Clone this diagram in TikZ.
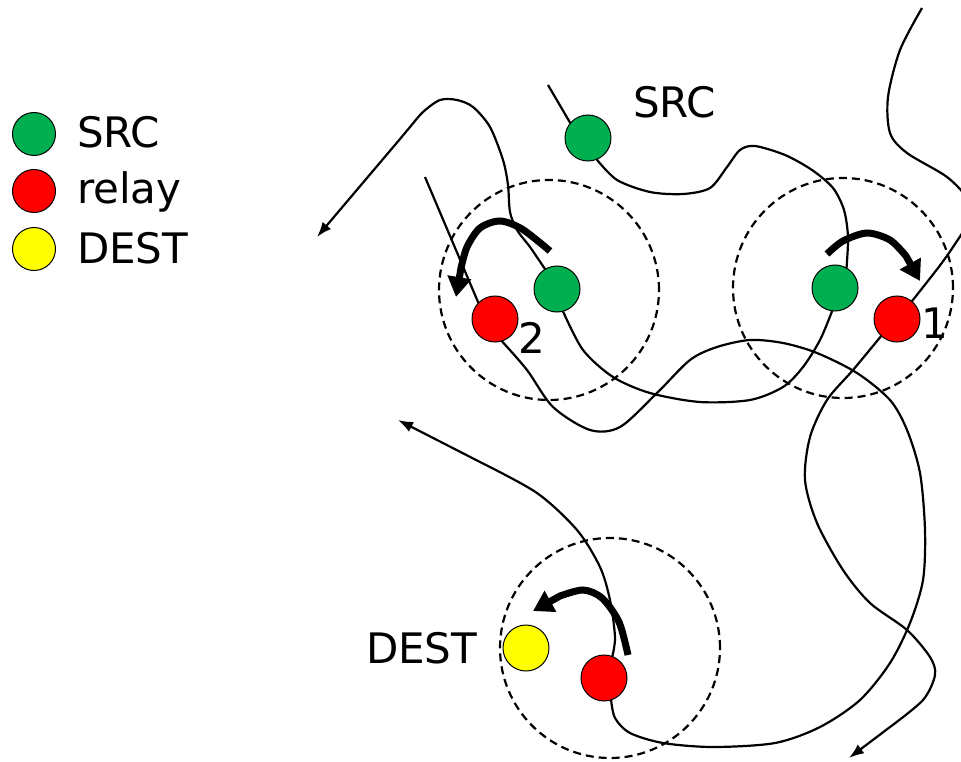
\documentclass[tikz,border=0pt]{standalone}
\usepackage{fontspec}
\setmainfont{DejaVu Sans}
\usetikzlibrary{arrows.meta,backgrounds}
\definecolor{srcgreen}{RGB}{0,176,80}
\definecolor{relayred}{RGB}{255,0,0}
\definecolor{destyellow}{RGB}{255,255,0}
\begin{document}
\begin{tikzpicture}[x=1pt,y=-1pt,
  dot/.style={circle,draw=black,line width=1pt,minimum size=46pt,inner sep=0pt,outer sep=0pt},
  legdot/.style={dot,minimum size=43pt},
  rangering/.style={circle,draw=black,dash pattern=on 8pt off 5pt,line width=2.2pt,minimum size=220pt,inner sep=0pt,outer sep=0pt},
  track/.style={line width=2.2pt,black},
  trackarrow/.style={track,-{Latex[length=15pt,width=11pt]}},
  hop/.style={line width=7pt,black,-{Triangle[length=20pt,width=23pt]}},
  lbl/.style={inner sep=0pt,outer sep=0pt,anchor=base west,font=\fontsize{42}{50}\selectfont}]
\useasboundingbox (0,0) rectangle (961,762);

% nodes
\node[dot,fill=srcgreen] (src) at (588,138) {};
\node[dot,fill=srcgreen] (g2) at (557,289) {};
\node[dot,fill=srcgreen] (g1) at (835,288) {};
\node[dot,fill=relayred] (r2) at (495,319) {};
\node[dot,fill=relayred] (r1) at (897,319) {};
\node[dot,fill=relayred] (r3) at (604,678) {};
\node[dot,fill=destyellow] (dest) at (526,648) {};

% legend
\node[legdot,fill=srcgreen] (lg) at (34,134) {};
\node[legdot,fill=relayred] (lr) at (34,191) {};
\node[legdot,fill=destyellow] (ly) at (34,249) {};
\node[lbl] (lgt) at (77,148) {SRC};
\node[lbl] (lrt) at (77,204) {relay};
\node[lbl] (lyt) at (77,263) {DEST};

% labels
\node[lbl] (srclabel) at (633,118) {SRC};
\node[lbl] (destlabel) at (366,663) {DEST};
\node[lbl] (n2) at (518,353) {2};
\node[lbl] (n1) at (921,338) {1};

% free ends
\coordinate (s0) at (548,85);
\coordinate (r0) at (425,177);
\coordinate (e1) at (317,237);
\coordinate (e2) at (398,420);
\coordinate (t0) at (922,8);
\coordinate (e3) at (849,758);
\coordinate (a1s) at (550,251);
\coordinate (a1e) at (456,297);
\coordinate (a2s) at (827,254);
\coordinate (a2e) at (920,281);
\coordinate (a3s) at (628,655);
\coordinate (a3e) at (533,611);

\begin{pgfonlayer}{background}
\fill[white] (0,0) rectangle (961,762);
\begin{scope}
\clip (0,0) rectangle (961,762);
% ranges
\node[rangering] (c1) at (549,290) {};
\node[rangering] (c2) at (843,288) {};
\node[rangering] (c3) at (610,648) {};

% SRC trajectory
\draw[track] (s0) -- (src.140);
\draw[track] plot[smooth] coordinates {(src.-68) (617,180) (650,192) (683,194) (710,188) (727,167) (740,150) (755,146) (785,155) (812,170) (833,188) (844,210) (848,237) (g1.60)};
\draw[track] plot[smooth] coordinates {(g1.-97) (820,340) (803,367) (783,387) (750,400) (700,402) (650,393) (613,377) (583,350) (g2.-75)};
\draw[trackarrow] plot[smooth] coordinates {(g2.121) (530,247) (517,230) (510,212) (508,185) (503,160) (490,127) (473,107) (457,100) (440,100) (423,112) (410,127) (400,139)} -- (e1);

% relay trajectory
\draw[track] (r0) -- (r2.136);
\draw[track] plot[smooth] coordinates {(r2.-73) (527,370) (553,407) (590,430) (620,427) (657,393) (690,360) (717,347) (750,340) (783,343) (817,353) (857,373) (890,400) (907,430) (920,473) (925,530) (923,580) (910,623) (890,663) (860,700) (820,727) (775,743) (713,747) (663,743) (630,733) (615,718) (r3.-72)};
\draw[trackarrow] plot[smooth] coordinates {(r3.69) (615,637) (610,600) (600,567) (577,530) (537,493) (480,462)} -- (e2);

% right trajectory
\draw[track] plot[smooth] coordinates {(t0) (900,50) (888,97) (890,133) (907,153) (947,177) (968,200) (968,222) (953,247) (938,268) (r1.50)};
\draw[trackarrow] plot[smooth] coordinates {(r1.-133) (853,370) (827,400) (810,437) (805,480) (817,523) (843,570) (870,603) (907,630) (930,657) (935,675) (923,700) (890,727)} -- (e3);

% hand-over arrows
\draw[hop] plot[smooth] coordinates {(a1s) (522,229) (500,221) (480,228) (467,247) (461,268)} -- (a1e);
\draw[hop] plot[smooth] coordinates {(a2s) (843,241) (867,233) (890,240) (906,256)} -- (a2e);
\draw[hop] plot[smooth] coordinates {(a3s) (619,622) (602,598) (583,590) (560,596)} -- (a3e);
\end{scope}
\end{pgfonlayer}
\end{tikzpicture}
\end{document}
